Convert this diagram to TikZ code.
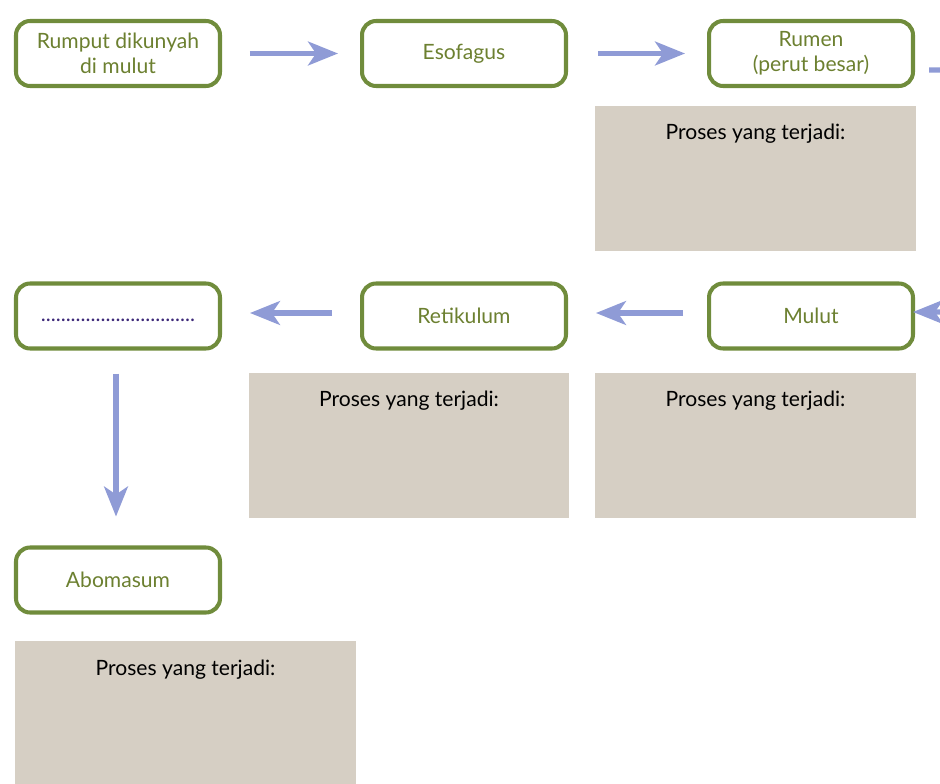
\documentclass[tikz,border=0pt]{standalone}
\usepackage{fontspec}
\setmainfont{Lato}
\usepackage{tikz}
\usetikzlibrary{arrows.meta}
\definecolor{hijau}{RGB}{112,140,60}
\definecolor{hijautext}{RGB}{108,128,48}
\definecolor{panah}{RGB}{143,155,214}
\definecolor{abu}{RGB}{214,207,196}
\definecolor{titik}{RGB}{60,40,120}
\tikzset{
  organ/.style={
    rectangle,
    rounded corners=0.28cm,
    draw=hijau, line width=2.3pt,
    minimum width=4.08cm, minimum height=1.3cm,
    text=hijautext, align=center,
    text centered
  },
  proses/.style={
    rectangle,
    fill=abu, draw=none,
    minimum width=6.42cm, minimum height=2.9cm
  },
  flow/.style={
    color=panah, line width=3pt,
    -{Stealth[length=17pt,width=13.5pt,inset=4.5pt]}
  },
}
\begin{document}
\begin{tikzpicture}[x=0.02cm,y=-0.02cm,font=\fontsize{12}{14.5}\selectfont]
      \clip (0,0) rectangle (940,784);

      \node[organ] (rumput) at (118,53.5) {Rumput dikunyah\\di mulut};
      \node[organ] (esofagus) at (464,53.5) {Esofagus};
      \node[organ] (rumen) at (811,53.5) {Rumen\\(perut besar)};
      \node[organ] (kosong) at (118,316)
        {\textcolor{titik}{\strut...............................}};
      \node[organ] (retikulum) at (464,316) {Retikulum};
      \node[organ] (mulut) at (811,316) {Mulut};
      \node[organ] (abomasum) at (118,580) {Abomasum};

      \node[proses] (p1) at (755.5,178.5) {};
      \node[proses] (p2) at (409,445.5) {};
      \node[proses] (p3) at (755.5,445.5) {};
      \node[proses, minimum width=6.82cm] (p4) at (185.5,713.5) {};
      \node (t1) at ([yshift=-0.56cm]p1.north) {Proses yang terjadi:};
      \node (t2) at ([yshift=-0.56cm]p2.north) {Proses yang terjadi:};
      \node (t3) at ([yshift=-0.56cm]p3.north) {Proses yang terjadi:};
      \node (t4) at ([yshift=-0.58cm]p4.north) {Proses yang terjadi:};

      \draw[flow, shorten <=0.56cm, shorten >=0.44cm] (rumput) -- (esofagus);
      \draw[flow, shorten <=0.6cm, shorten >=0.44cm] (esofagus) -- (rumen);
      \draw[flow, shorten <=0.48cm, shorten >=0.56cm]
        ([yshift=0.06cm]mulut.west) -- ([yshift=0.06cm]retikulum.east);
      \draw[flow, shorten <=0.56cm, shorten >=0.56cm]
        ([yshift=0.06cm]retikulum.west) -- ([yshift=0.06cm]kosong.east);
      \draw[flow, shorten <=0.46cm, shorten >=0.58cm]
        ([xshift=-0.04cm]kosong.south) -- ([xshift=-0.04cm]abomasum.north);

      \coordinate (r1) at (929,70);
      \coordinate (m1) at (913,312);
      \draw[flow, rounded corners=0.2cm] (r1) -| (954,190) |- (m1);
    \end{tikzpicture}
\end{document}
